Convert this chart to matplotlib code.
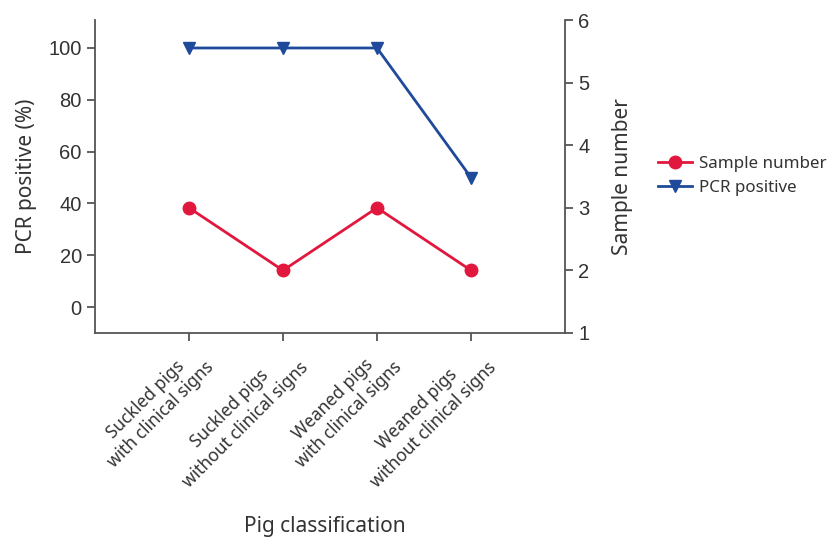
import matplotlib
matplotlib.use("Agg")
import matplotlib.pyplot as plt
from matplotlib.lines import Line2D

categories = ["Suckled pigs\nwith clinical signs",
              "Suckled pigs\nwithout clinical signs",
              "Weaned pigs\nwith clinical signs",
              "Weaned pigs\nwithout clinical signs"]
sample_number = [3, 2, 3, 2]
pcr_positive = [100, 100, 100, 50]

red = "#E2173D"
blue = "#1F4A9B"
txt = "#333333"
numfont = "Liberation Sans"
labfont = "Noto Sans"

fig = plt.figure(figsize=(8.37, 5.38), dpi=100)
ax = fig.add_axes([95/837, 1-333/538, (565-95)/837, (333-20)/538])
ax2 = ax.twinx()

x = list(range(1, len(categories)+1))
ax.plot(x, pcr_positive, color=blue, lw=2, marker="v", ms=9, zorder=3)
ax2.plot(x, sample_number, color=red, lw=2, marker="o", ms=9, zorder=3)

ax.set_xlim(0, 5)
ax.set_ylim(-10, 110.8)
ax.set_yticks([0, 20, 40, 60, 80, 100])
ax2.set_ylim(1, 6)
ax2.set_yticks([1, 2, 3, 4, 5, 6])

for a in (ax, ax2):
    a.spines["top"].set_visible(False)
    for s in a.spines.values():
        s.set_color("#555555")
        s.set_linewidth(1.3)
    a.tick_params(colors="#555555", width=1.3, length=6, labelcolor=txt)
    a.tick_params(axis="y", labelfontfamily=numfont, labelsize=14.5)
ax.spines["right"].set_visible(False)
ax2.spines["left"].set_visible(False)
ax2.spines["bottom"].set_visible(False)

ax.set_xticks(x)
ax.set_xticklabels(categories, rotation=45, ha="right", rotation_mode="anchor",
                   fontsize=12.5, family=labfont, color=txt, multialignment="center",
                   linespacing=1.3)
ax.tick_params(axis="x", pad=1)

ax.set_ylabel("PCR positive (%)", fontsize=15, family=labfont, color=txt, labelpad=8)
ax2.set_ylabel("Sample number", fontsize=15, family=labfont, color=txt, labelpad=16)
ax.set_xlabel("Pig classification", fontsize=15, family=labfont, color=txt)
ax.xaxis.set_label_coords(0.49, -0.585)

handles = [Line2D([], [], color=red, lw=2, marker="o", ms=9),
           Line2D([], [], color=blue, lw=2, marker="v", ms=9)]
fig.legend(handles, ["Sample number", "PCR positive"], loc="center left",
           bbox_to_anchor=(643/837, 1-176/538), frameon=False,
           prop={"family": labfont, "size": 12.2}, handlelength=2.0,
           handletextpad=0.4, labelspacing=0.45, labelcolor=txt)

fig.savefig("out.png", dpi=100)
